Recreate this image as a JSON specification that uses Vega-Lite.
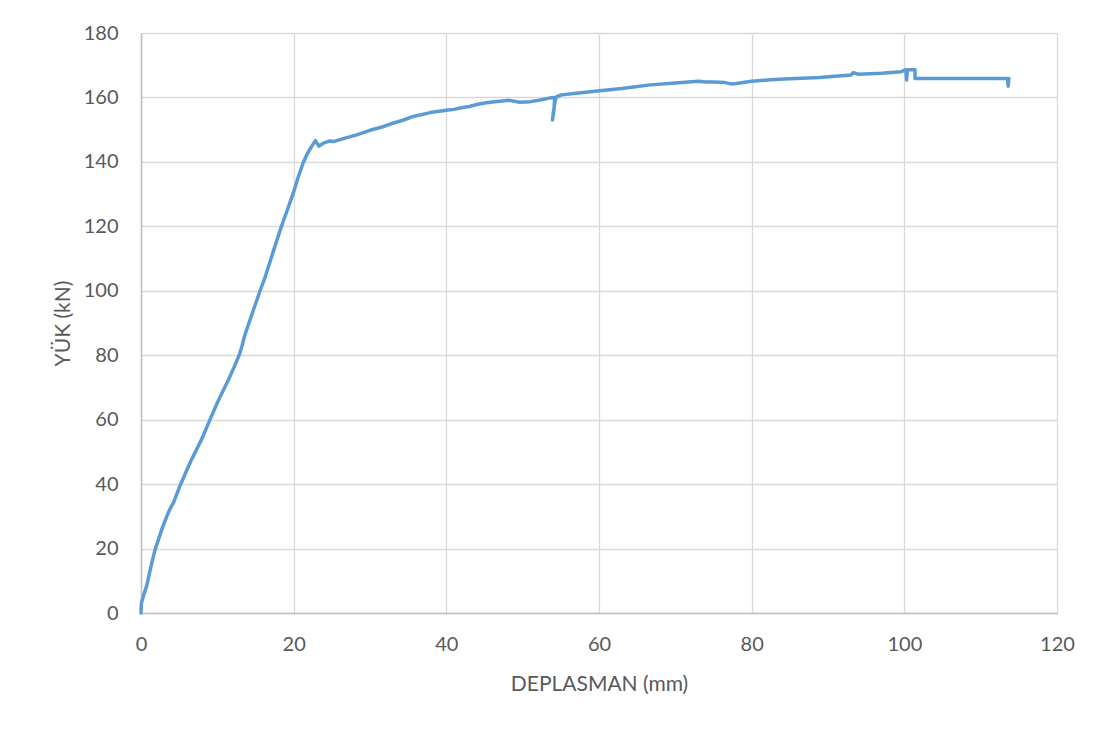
{
  "$schema": "https://vega.github.io/schema/vega-lite/v6.json",
  "autosize": {"type": "none"},
  "width": 916,
  "height": 580,
  "padding": {"left": 141, "top": 33, "right": 48, "bottom": 118},
  "background": "white",
  "config": {
    "view": {"stroke": null},
    "font": "Lato",
    "axis": {
      "labelFont": "Lato",
      "titleFont": "Lato",
      "labelColor": "#595959",
      "titleColor": "#595959",
      "labelFontSize": 20,
      "titleFontSize": 21,
      "titleFontWeight": "normal",
      "gridColor": "#d9d9d9",
      "gridWidth": 1.3,
      "domainColor": "#bfbfbf",
      "domainWidth": 1.5,
      "ticks": false,
      "labelFlush": false
    }
  },
  "data": {
    "values": [
      {"seq": 1, "d": 0, "y": 0},
      {"seq": 2, "d": 0.05, "y": 3},
      {"seq": 3, "d": 0.35, "y": 5.5},
      {"seq": 4, "d": 0.75, "y": 8.5},
      {"seq": 5, "d": 1.4, "y": 15.4},
      {"seq": 6, "d": 1.83, "y": 19.5},
      {"seq": 7, "d": 2.7, "y": 25.8},
      {"seq": 8, "d": 3.36, "y": 29.9},
      {"seq": 9, "d": 3.8, "y": 32.3},
      {"seq": 10, "d": 4.3, "y": 34.5},
      {"seq": 11, "d": 5.11, "y": 39.5},
      {"seq": 12, "d": 6.5, "y": 47},
      {"seq": 13, "d": 8, "y": 54.2},
      {"seq": 14, "d": 9.04, "y": 60},
      {"seq": 15, "d": 10.1, "y": 65.8},
      {"seq": 16, "d": 11.44, "y": 72.3},
      {"seq": 17, "d": 12.2, "y": 76.3},
      {"seq": 18, "d": 12.9, "y": 80.3},
      {"seq": 19, "d": 13.25, "y": 83},
      {"seq": 20, "d": 13.6, "y": 86.2},
      {"seq": 21, "d": 14.5, "y": 92.5},
      {"seq": 22, "d": 15.6, "y": 100},
      {"seq": 23, "d": 16.3, "y": 104.5},
      {"seq": 24, "d": 17.3, "y": 112},
      {"seq": 25, "d": 18.4, "y": 120},
      {"seq": 26, "d": 19.2, "y": 125.3},
      {"seq": 27, "d": 19.95, "y": 130.3},
      {"seq": 28, "d": 20.6, "y": 135.3},
      {"seq": 29, "d": 21.26, "y": 139.8},
      {"seq": 30, "d": 21.8, "y": 142.6},
      {"seq": 31, "d": 22.36, "y": 144.8},
      {"seq": 32, "d": 22.85, "y": 146.6},
      {"seq": 33, "d": 23.3, "y": 144.9},
      {"seq": 34, "d": 23.9, "y": 145.8},
      {"seq": 35, "d": 24.76, "y": 146.5},
      {"seq": 36, "d": 25.2, "y": 146.3},
      {"seq": 37, "d": 26.5, "y": 147.2},
      {"seq": 38, "d": 28.25, "y": 148.4},
      {"seq": 39, "d": 30, "y": 149.8},
      {"seq": 40, "d": 31.7, "y": 150.9},
      {"seq": 41, "d": 33, "y": 152},
      {"seq": 42, "d": 34.4, "y": 153},
      {"seq": 43, "d": 35.5, "y": 154},
      {"seq": 44, "d": 37.9, "y": 155.3},
      {"seq": 45, "d": 40, "y": 156},
      {"seq": 46, "d": 41, "y": 156.3},
      {"seq": 47, "d": 42, "y": 156.8},
      {"seq": 48, "d": 43, "y": 157.2},
      {"seq": 49, "d": 44, "y": 157.8},
      {"seq": 50, "d": 45, "y": 158.3},
      {"seq": 51, "d": 46, "y": 158.6},
      {"seq": 52, "d": 47, "y": 158.8},
      {"seq": 53, "d": 48.3, "y": 159.1},
      {"seq": 54, "d": 49.6, "y": 158.5},
      {"seq": 55, "d": 51, "y": 158.7},
      {"seq": 56, "d": 52.3, "y": 159.2},
      {"seq": 57, "d": 53.5, "y": 159.8},
      {"seq": 58, "d": 54.2, "y": 160},
      {"seq": 59, "d": 54.1, "y": 156},
      {"seq": 60, "d": 53.9, "y": 153},
      {"seq": 61, "d": 54.0, "y": 155},
      {"seq": 62, "d": 54.3, "y": 159.5},
      {"seq": 63, "d": 54.5, "y": 160.3},
      {"seq": 64, "d": 55.1, "y": 160.8},
      {"seq": 65, "d": 57, "y": 161.3},
      {"seq": 66, "d": 60.1, "y": 162.1},
      {"seq": 67, "d": 63, "y": 162.8},
      {"seq": 68, "d": 66.7, "y": 163.9},
      {"seq": 69, "d": 70, "y": 164.5},
      {"seq": 70, "d": 73, "y": 165},
      {"seq": 71, "d": 74, "y": 164.8},
      {"seq": 72, "d": 75, "y": 164.8},
      {"seq": 73, "d": 76.5, "y": 164.6},
      {"seq": 74, "d": 77.3, "y": 164.2},
      {"seq": 75, "d": 78, "y": 164.3},
      {"seq": 76, "d": 80, "y": 165},
      {"seq": 77, "d": 83, "y": 165.6},
      {"seq": 78, "d": 85, "y": 165.8},
      {"seq": 79, "d": 88.9, "y": 166.2},
      {"seq": 80, "d": 93, "y": 167},
      {"seq": 81, "d": 93.3, "y": 167.7},
      {"seq": 82, "d": 94, "y": 167.2},
      {"seq": 83, "d": 97, "y": 167.5},
      {"seq": 84, "d": 99.6, "y": 168},
      {"seq": 85, "d": 100.2, "y": 168.6},
      {"seq": 86, "d": 100.3, "y": 165.4},
      {"seq": 87, "d": 100.4, "y": 168.6},
      {"seq": 88, "d": 101.4, "y": 168.6},
      {"seq": 89, "d": 101.4, "y": 165.9},
      {"seq": 90, "d": 113.5, "y": 165.9},
      {"seq": 91, "d": 113.6, "y": 163.5},
      {"seq": 92, "d": 113.7, "y": 165.9}
    ]
  },
  "mark": {"type": "line", "color": "#5B9BD5", "strokeWidth": 3.5, "strokeJoin": "round", "strokeCap": "round"},
  "encoding": {
    "x": {
      "field": "d",
      "type": "quantitative",
      "scale": {"domain": [0, 120], "nice": false},
      "axis": {"values": [0, 20, 40, 60, 80, 100, 120], "title": "DEPLASMAN (mm)", "labelPadding": 21, "titlePadding": 19}
    },
    "y": {
      "field": "y",
      "type": "quantitative",
      "scale": {"domain": [0, 180], "nice": false},
      "axis": {"values": [0, 20, 40, 60, 80, 100, 120, 140, 160, 180], "title": "YÜK (kN)", "labelPadding": 23, "titlePadding": 10}
    },
    "order": {"field": "seq", "type": "quantitative"}
  }
}
